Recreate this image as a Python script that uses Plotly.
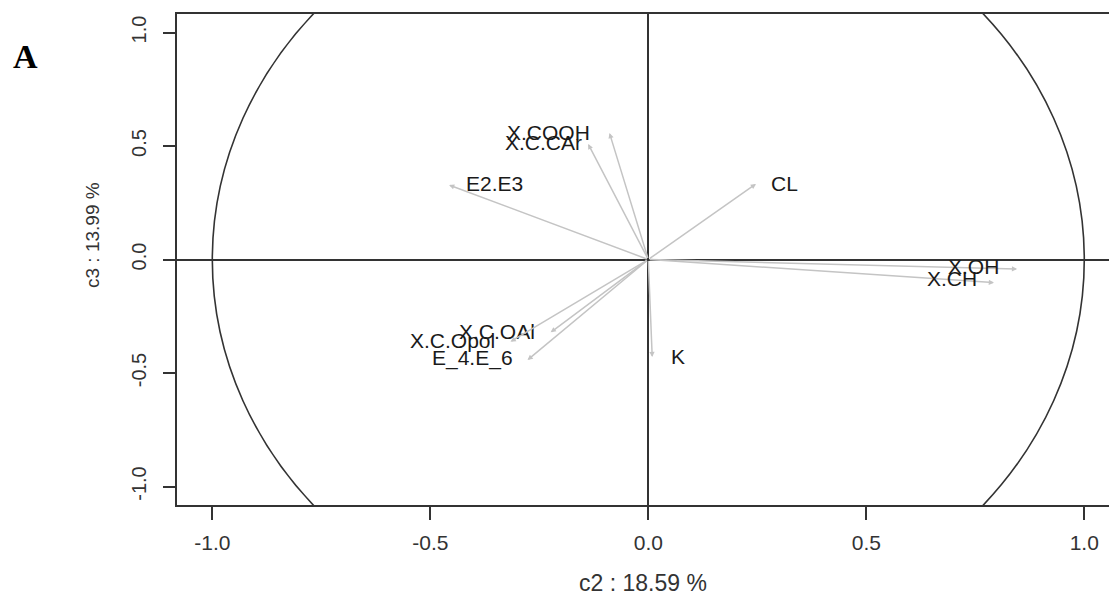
import plotly.graph_objects as go

# ---- data ----
variables = ["X.COOH", "X.C.CAr", "E2.E3", "CL", "X.OH", "X.CH",
             "X.C.OAl", "X.C.Opol", "E_4.E_6", "K"]
c2 = [-0.089, -0.138, -0.457, 0.247, 0.846, 0.793, -0.224, -0.316, -0.277, 0.009]
c3 = [0.557, 0.509, 0.328, 0.333, -0.042, -0.102, -0.321, -0.362, -0.443, -0.430]
tick_vals = [-1.0, -0.5, 0.0, 0.5, 1.0]
tick_text = ["-1.0", "-0.5", "0.0", "0.5", "1.0"]
x_title = "c2 : 18.59 %"
y_title = "c3 : 13.99 %"
panel_label = "A"

# label placement style (side of the arrow tip, pixel gaps)
label_side = ["left", "left", "right", "right", "left", "left",
              "left", "left", "left", "right"]
label_gap = [17, 4, 15, 13, 16, 15, 14, 14, 13, 17]
label_dy = [1, 1, 2, 0, 3, 4, 1, 1, 2, 1]

AX = "#333333"
ARROW = "#c4c4c4"
SANS = "Liberation Sans, Arial, sans-serif"

fig = go.Figure()
fig.add_trace(go.Scatter(x=[None], y=[None], showlegend=False, hoverinfo="skip"))

# unit correlation circle (display is stretched, as in the reference)
fig.add_shape(type="circle", xref="x", yref="y", x0=-1, x1=1, y0=-1.69, y1=1.69,
              line=dict(color=AX, width=1.6), layer="above")

annotations = []
for name, xv, yv, side, gap, dy in zip(variables, c2, c3, label_side, label_gap, label_dy):
    annotations.append(dict(
        x=xv, y=yv, ax=0, ay=0, xref="x", yref="y", axref="x", ayref="y",
        text="", showarrow=True, arrowhead=2, arrowsize=0.7, arrowwidth=1.5,
        arrowcolor=ARROW, standoff=0, startstandoff=0))
    annotations.append(dict(
        x=xv, y=yv, xref="x", yref="y", text=name, showarrow=False,
        xanchor="right" if side == "left" else "left",
        xshift=-gap if side == "left" else gap, yshift=dy, yanchor="middle",
        font=dict(family=SANS, size=21, color="#1a1a1a")))

annotations.append(dict(x=(643 - 177) / 932, y=-(583 - 505) / 491, xref="paper", yref="paper",
                        text=x_title, showarrow=False, xanchor="center", yanchor="middle",
                        font=dict(family=SANS, size=23, color=AX)))
annotations.append(dict(x=-(177 - 92) / 932, y=(505 - 235) / 491, xref="paper", yref="paper",
                        text=y_title, showarrow=False, textangle=-90,
                        xanchor="center", yanchor="middle",
                        font=dict(family=SANS, size=19, color=AX)))
annotations.append(dict(x=-(177 - 25) / 932, y=(505 - 56) / 491, xref="paper", yref="paper",
                        text="<b>" + panel_label + "</b>", showarrow=False,
                        xanchor="center", yanchor="middle",
                        font=dict(family="Liberation Serif, Times New Roman, serif", size=34,
                                  color="black")))

fig.update_layout(
    width=1109, height=600,
    margin=dict(l=177, r=0, t=14, b=95, autoexpand=False),
    paper_bgcolor="white", plot_bgcolor="white",
    showlegend=False,
    annotations=annotations,
    xaxis=dict(range=[-1.081, 1.0567], tickvals=tick_vals, ticktext=tick_text,
               automargin=False,
               showgrid=False, zeroline=True, zerolinecolor=AX, zerolinewidth=1.6,
               showline=True, mirror=True, linecolor=AX, linewidth=1.6,
               ticks="outside", ticklen=13, tickwidth=1.5, tickcolor=AX,
               ticklabelstandoff=5,
               tickfont=dict(family=SANS, size=21, color=AX)),
    yaxis=dict(range=[-1.0815, 1.0815], tickvals=tick_vals, ticktext=tick_text,
               automargin=False,
               showgrid=False, zeroline=True, zerolinecolor=AX, zerolinewidth=1.6,
               showline=True, mirror=False, linecolor=AX, linewidth=1.6,
               ticks="outside", ticklen=12, tickwidth=1.5, tickcolor=AX,
               tickangle=-90, ticklabelstandoff=9,
               tickfont=dict(family=SANS, size=20, color=AX)),
)

fig.write_html("out.html", config={"displayModeBar": False},
               post_script="document.body.style.margin='0';")
